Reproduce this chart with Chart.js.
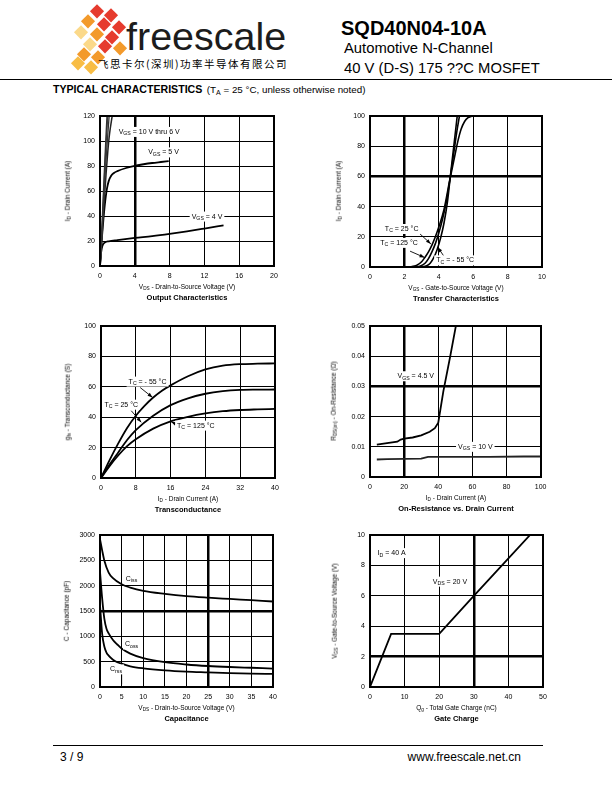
<!DOCTYPE html>
<html>
<head>
<meta charset="utf-8">
<script src="https://cdn.jsdelivr.net/npm/chart.js@4.4.0/dist/chart.umd.min.js"></script>
<style>
body { margin: 0; background: #fff; }
#page { position: relative; width: 612px; height: 792px; overflow: hidden; background: #fff;
        font-family: "Liberation Sans", Arial, sans-serif; color: #000; }
.t { position: absolute; white-space: nowrap; line-height: 1; }
.c { transform: translate(-50%, -50%); }
.l { transform: translate(0, -50%); }
.rt { transform: translate(-100%, -50%); }
.r { transform: translate(-50%, -50%) rotate(-90deg); }
sub { font-size: 0.72em; vertical-align: -0.3em; line-height: 0; }
canvas { position: absolute; }
.dia { position: absolute; width: 9.5px; height: 9.5px; transform: translate(-50%, -50%) rotate(45deg); }
.rule { position: absolute; height: 1px; background: #000; }
</style>
</head>
<body>
<div id="page"></div>
<script>
// Output characteristics: VDS (V), ID (A)
var outVgs10 = [[0,0],[0.1,12],[0.3,44],[0.5,76],[0.7,106],[0.8,120]];
var outVgs8 = [[0,0],[0.1,11],[0.3,40],[0.5,70],[0.7,98],[0.9,120]];
var outVgs7 = [[0,0],[0.1,10],[0.3,36],[0.5,62],[0.7,86],[0.9,106],[1.05,120]];
var outVgs6 = [[0,0],[0.1,9],[0.3,32],[0.5,54],[0.7,74],[0.9,92],[1.1,106],[1.4,120]];
var outVgs5 = [[0,0],[0.1,11],[0.2,21],[0.4,38],[0.6,52],[0.8,62],[1,68],[1.3,72.5],[1.6,74.5],[2,76],[3,78.5],[4,80.3],[5,81.5],[6,82.5],[7,83.3],[7.9,84]];
var outVgs4 = [[0,0],[0.1,9],[0.2,14],[0.35,17.3],[0.6,19],[1,19.8],[2,20.8],[4,22.5],[6,24],[8,25.8],[10,27.8],[12,30],[14.2,32.5]];
var outX = [0, 4, 8, 12, 16, 20];
var outY = [0, 20, 40, 60, 80, 100, 120];

// Transfer characteristics: VGS (V), ID (A)
var trTc125 = [[0,0],[2,0],[2.4,0.2],[2.7,1],[3.0,3.5],[3.2,6.5],[3.4,10],[3.6,14.5],[3.8,20],[4.0,26.5],[4.3,38],[4.66,59],[4.9,72],[5.1,83],[5.3,91.5],[5.5,96.5],[5.7,99],[5.9,100]];
var trTc25 = [[0,0],[2.6,0],[2.9,0.5],[3.2,2.5],[3.4,5.5],[3.6,10],[3.8,15.5],[4.0,22.5],[4.2,31],[4.4,41],[4.66,59],[4.9,78],[5.05,90],[5.2,100]];
var trTc55 = [[0,0],[3.0,0],[3.3,0.8],[3.5,2.5],[3.7,6],[3.9,11.5],[4.1,19],[4.3,29],[4.5,43],[4.66,59],[4.85,78],[5.0,93],[5.07,100]];
var trX = [0, 2, 4, 6, 8, 10];
var trY = [0, 20, 40, 60, 80, 100];

// Transconductance: ID (A), gfs (S)
var gfsTc55 = [[0,0],[2,12],[4,23],[6,33],[8,41],[10,47.5],[12,53],[14,57.5],[16,61],[20,67],[24,71.5],[28,74],[32,75],[36,75.3],[40,75.5]];
var gfsTc25 = [[0,0],[2,9],[4,17],[6,25],[8,31.5],[12,41],[16,48],[20,52.5],[24,55.5],[28,57.2],[32,58],[36,58.2],[40,58.3]];
var gfsTc125 = [[0,0],[2,8],[4,15],[6,21],[8,25.5],[12,32.5],[16,37.3],[20,40.3],[24,42.5],[28,44],[32,44.8],[36,45.2],[40,45.5]];
var gfsX = [0, 8, 16, 24, 32, 40];
var gfsY = [0, 20, 40, 60, 80, 100];

// On-resistance: ID (A), RDS(on) (ohm)
var ronVgs45 = [[4,0.0107],[10,0.0112],[16,0.0117],[18,0.0124],[20,0.0127],[25,0.0131],[30,0.0138],[35,0.015],[38,0.0162],[40,0.018],[43,0.0285],[47,0.04],[50.3,0.05]];
var ronVgs10 = [[4,0.0058],[10,0.0059],[20,0.006],[30,0.0061],[34,0.0067],[50,0.0067],[70,0.0067],[90,0.0068],[100,0.0068]];
var ronX = [0, 20, 40, 60, 80, 100];
var ronY = [0, 0.01, 0.02, 0.03, 0.04, 0.05];

// Capacitance: VDS (V), C (pF)
var capCiss = [[0,2920],[0.5,2700],[1,2500],[2,2260],[3,2150],[5,2030],[7,1965],[10,1900],[15,1840],[20,1795],[25,1765],[30,1740],[35,1715],[40,1690]];
var capCoss = [[0,2280],[0.5,1750],[1,1350],[1.5,1150],[2,1060],[3,930],[4,840],[5,760],[7,660],[10,570],[15,490],[20,445],[25,415],[30,395],[35,380],[40,365]];
var capCrss = [[0,1620],[0.5,1050],[1,800],[1.5,680],[2,620],[3,540],[4,490],[5,460],[7,410],[10,370],[15,330],[20,305],[25,290],[30,275],[35,265],[40,258]];
var capX = [0, 5, 10, 15, 20, 25, 30, 35, 40];
var capY = [0, 500, 1000, 1500, 2000, 2500, 3000];

// Gate charge: Qg (nC), VGS (V)
var gateVgs = [[0,0],[6.1,3.5],[20,3.5],[30,6],[46.2,10]];
var gateX = [0, 10, 20, 30, 40, 50];
var gateY = [0, 2, 4, 6, 8, 10];

var page = document.getElementById('page');

function txt(html, x, y, css, cls) {
    var d = document.createElement('div');
    d.className = 't ' + (cls || 'c');
    d.style.cssText = 'left:' + x + 'px;top:' + y + 'px;' + (css || '');
    d.innerHTML = html;
    page.appendChild(d);
    return d;
}

function rule(x, y, w) {
    var d = document.createElement('div');
    d.className = 'rule';
    d.style.cssText = 'left:' + x + 'px;top:' + y + 'px;width:' + w + 'px;';
    page.appendChild(d);
}

// Header with logo.
var R = '#e63b2e', O = '#f39a2b', Y = '#f8bd45', P = '#fbd98a';
[[97,11,R],[111,15,R],[88,21,O],[104,24,R],[119,27,R],[81,32,P],[97,34,O],[112,37,R],
 [90,44,P],[105,46,R],[120,48,O],[84,54,O],[98,57,O],[78,63,Y],[91,67,Y]].forEach(function (d) {
    var e = document.createElement('div');
    e.className = 'dia';
    e.style.left = d[0] + 'px';
    e.style.top = d[1] + 'px';
    e.style.background = d[2];
    page.appendChild(e);
});
txt('freescale', 126, 36.5, 'font-size:39.5px;color:#1c1c1c;', 'l');
txt('飞思卡尔(深圳)功率半导体有限公司', 98, 64, 'font-family:\'Noto Sans CJK SC\';font-size:10.5px;letter-spacing:1.5px;', 'l');
txt('SQD40N04-10A', 341, 28, 'font-weight:bold;font-size:20px;', 'l');
txt('Automotive N-Channel', 344, 48, 'font-size:14.8px;', 'l');
txt('40 V (D-S) 175 ??C MOSFET', 344, 68, 'font-size:14.8px;', 'l');
rule(0, 79, 612);
txt('<b style="font-size:10.6px">TYPICAL CHARACTERISTICS</b> <span style="font-size:9.8px">(T<sub>A</sub> = 25 °C, unless otherwise noted)</span>', 53, 88, '', 'l');

// Footer.
rule(53, 745, 490);
txt('3 / 9', 60, 757, 'font-size:12px;', 'l');
txt('www.freescale.net.cn', 521, 757, 'font-size:12px;', 'rt');

function pts(a) {
    return a.map(function (p) { return {x: p[0], y: p[1]}; });
}

var framePlugin = {
    id: 'frame',
    afterDraw: function (chart) {
        var a = chart.chartArea, c = chart.ctx;
        c.save();
        c.strokeStyle = '#000';
        c.lineWidth = 2;
        c.strokeRect(Math.round(a.left), Math.round(a.top), Math.round(a.right - a.left), Math.round(a.bottom - a.top));
        c.restore();
    }
};

// Labels and pointer lines, placed in data units.
function notesPlugin(notes) {
    return {
        id: 'notes',
        afterDatasetsDraw: function (chart) {
            var c = chart.ctx, sx = chart.scales.x, sy = chart.scales.y;
            var big = '7px "Liberation Sans", Arial, sans-serif';
            var small = '5.2px "Liberation Sans", Arial, sans-serif';
            c.save();
            (notes.lines || []).forEach(function (l) {
                var x1 = sx.getPixelForValue(l.from[0]), y1 = sy.getPixelForValue(l.from[1]);
                var x2 = sx.getPixelForValue(l.to[0]), y2 = sy.getPixelForValue(l.to[1]);
                c.strokeStyle = '#000';
                c.lineWidth = 0.9;
                c.beginPath(); c.moveTo(x1, y1); c.lineTo(x2, y2); c.stroke();
                if (l.head) {
                    var a = Math.atan2(y2 - y1, x2 - x1), cs = Math.cos(a), sn = Math.sin(a);
                    c.beginPath();
                    c.moveTo(x2, y2);
                    c.lineTo(x2 - 5 * cs + 1.8 * sn, y2 - 5 * sn - 1.8 * cs);
                    c.lineTo(x2 - 5 * cs - 1.8 * sn, y2 - 5 * sn + 1.8 * cs);
                    c.closePath();
                    c.fillStyle = '#000';
                    c.fill();
                }
            });
            (notes.labels || []).forEach(function (l) {
                var w = 0;
                l.parts.forEach(function (p) { c.font = p[1] ? small : big; w += c.measureText(p[0]).width; });
                var x = sx.getPixelForValue(l.at[0]) - w / 2, y = sy.getPixelForValue(l.at[1]);
                c.fillStyle = '#fff';
                c.fillRect(x - 2, y - 5, w + 4, 10);
                c.fillStyle = '#000';
                c.textBaseline = 'middle';
                c.textAlign = 'left';
                l.parts.forEach(function (p) {
                    c.font = p[1] ? small : big;
                    c.fillText(p[0], x, p[1] ? y + 2 : y);
                    x += c.measureText(p[0]).width;
                });
            });
            c.restore();
        }
    };
}

function axis(ticks, thick, size, pad) {
    return {
        type: 'linear',
        min: ticks[0],
        max: ticks[ticks.length - 1],
        afterBuildTicks: function (s) { s.ticks = ticks.map(function (v) { return {value: v}; }); },
        afterFit: function (s) { if (s.isHorizontal()) s.height = size; else s.width = size; },
        ticks: {
            autoSkip: false, maxRotation: 0, padding: pad, color: '#000',
            font: {family: 'Liberation Sans', size: 7},
            callback: function (v) { return String(+Number(v).toFixed(4)); }
        },
        grid: {
            color: '#000', drawTicks: false,
            lineWidth: function (c) {
                return c.tick && thick !== null && Math.abs(c.tick.value - thick) < 1e-9 ? 2.5 : 1;
            }
        },
        border: {display: false}
    };
}

function drawPlot(cfg) {
    var L = cfg.box[0], T = cfg.box[1], Rr = cfg.box[2], B = cfg.box[3];
    var padL = 34, padT = 8, padR = 10, padB = 18;
    var w = Rr - L + padL + padR, h = B - T + padT + padB;
    var cv = document.createElement('canvas');
    cv.width = w;
    cv.height = h;
    cv.style.left = (L - padL) + 'px';
    cv.style.top = (T - padT) + 'px';
    cv.style.width = w + 'px';
    cv.style.height = h + 'px';
    page.appendChild(cv);

    new Chart(cv, {
        type: 'scatter',
        data: {
            datasets: cfg.series.map(function (s) {
                return {
                    data: pts(s[0]), showLine: true, pointRadius: 0, fill: false,
                    borderColor: s[1] || '#000', borderWidth: s[2] || 1.8,
                    tension: 0, cubicInterpolationMode: cfg.smooth ? 'monotone' : 'default'
                };
            })
        },
        options: {
            responsive: false, animation: false, events: [],
            layout: {padding: {top: padT, right: padR, left: 0, bottom: 0}},
            plugins: {legend: {display: false}, tooltip: {enabled: false}},
            scales: {
                x: axis(cfg.x, cfg.thick[0], padB, 5.5),
                y: axis(cfg.y, cfg.thick[1], padL, 5)
            }
        },
        plugins: [framePlugin, notesPlugin(cfg.notes)]
    });

    txt(cfg.xTitle, (L + Rr) / 2, B + 21, 'font-size:6.5px;');
    txt(cfg.caption, (L + Rr) / 2, B + 31.5, 'font-size:7.5px;font-weight:bold;');
    txt(cfg.yTitle, cfg.yTitleX, (T + B) / 2, 'font-size:6.5px;', 'r');
}

var vgs = function (s) { return [['V'], ['GS', 1], [s]]; };
var tc = function (s) { return [['T'], ['C', 1], [s]]; };

drawPlot({
    box: [100, 115, 274, 266], x: outX, y: outY, thick: [4, null], smooth: true,
    series: [[outVgs10, '#333', 1.3], [outVgs8, '#444', 1.3], [outVgs7, '#333', 1.3], [outVgs6, '#222', 1.5], [outVgs5], [outVgs4]],
    notes: {labels: [
        {at: [5.65, 107.4], parts: vgs(' = 10 V thru 6 V')},
        {at: [7.3, 91], parts: vgs(' = 5 V')},
        {at: [12.3, 39.6], parts: vgs(' = 4 V')}
    ]},
    xTitle: 'V<sub>DS</sub> - Drain-to-Source Voltage (V)', caption: 'Output Characteristics',
    yTitle: 'I<sub>D</sub> - Drain Current (A)', yTitleX: 68
});

drawPlot({
    box: [370, 115, 542, 267], x: trX, y: trY, thick: [2, 60], smooth: true,
    series: [[trTc125, '#000', 1.6], [trTc25, '#000', 1.6], [trTc55, '#000', 1.6]],
    notes: {
        labels: [
            {at: [1.84, 25.2], parts: tc(' = 25 °C')},
            {at: [1.69, 16], parts: tc(' = 125 °C')},
            {at: [4.95, 4.4], parts: tc(' = - 55 °C')}
        ],
        lines: [
            {from: [2.91, 21.9], to: [3.54, 15.3], head: true},
            {from: [2.33, 10.5], to: [3.17, 6.3], head: true},
            {from: [4.33, 6.6], to: [3.94, 13.1], head: true}
        ]
    },
    xTitle: 'V<sub>GS</sub> - Gate-to-Source Voltage (V)', caption: 'Transfer Characteristics',
    yTitle: 'I<sub>D</sub> - Drain Current (A)', yTitleX: 339
});

drawPlot({
    box: [101, 325, 275, 478], x: gfsX, y: gfsY, thick: [null, null], smooth: true,
    series: [[gfsTc55], [gfsTc25], [gfsTc125]],
    notes: {
        labels: [
            {at: [10.7, 63.5], parts: tc(' = - 55 °C')},
            {at: [4.66, 48.3], parts: tc(' = 25 °C')},
            {at: [21.8, 34.5], parts: tc(' = 125 °C')}
        ],
        lines: [
            {from: [9.0, 59.6], to: [11.85, 53.1], head: true},
            {from: [6.96, 44.3], to: [9.25, 36.7], head: true},
            {from: [18.6, 33.8], to: [16.1, 37.1], head: true}
        ]
    },
    xTitle: 'I<sub>D</sub> - Drain Current (A)', caption: 'Transconductance',
    yTitle: 'g<sub>fs</sub> - Transconductance (S)', yTitleX: 68
});

drawPlot({
    box: [370, 325, 542, 477], x: ronX, y: ronY, thick: [20, 0.03], smooth: false,
    series: [[ronVgs45], [ronVgs10, '#222']],
    notes: {labels: [
        {at: [26.8, 0.0334], parts: vgs(' = 4.5 V')},
        {at: [61.7, 0.01], parts: vgs(' = 10 V')}
    ]},
    xTitle: 'I<sub>D</sub> - Drain Current (A)', caption: 'On-Resistance vs. Drain Current',
    yTitle: 'R<sub>DS(on)</sub> - On-Resistance (Ω)', yTitleX: 334
});

drawPlot({
    box: [100, 534, 273, 687], x: capX, y: capY, thick: [25, 1500], smooth: true,
    series: [[capCiss], [capCoss], [capCrss]],
    notes: {
        labels: [
            {at: [7.3, 2134], parts: [['C'], ['iss', 1]]},
            {at: [7.3, 840], parts: [['C'], ['oss', 1]]},
            {at: [3.7, 348], parts: [['C'], ['rss', 1]]}
        ],
        lines: [{from: [5, 260], to: [5, 50]}]
    },
    xTitle: 'V<sub>DS</sub> - Drain-to-Source Voltage (V)', caption: 'Capacitance',
    yTitle: 'C - Capacitance (pF)', yTitleX: 67
});

drawPlot({
    box: [370, 534, 543, 687], x: gateX, y: gateY, thick: [30, 2], smooth: false,
    series: [[gateVgs]],
    notes: {labels: [
        {at: [6.25, 8.82], parts: [['I'], ['D', 1], [' = 40 A']]},
        {at: [23.1, 6.94], parts: [['V'], ['DS', 1], [' = 20 V']]}
    ]},
    xTitle: 'Q<sub>g</sub> - Total Gate Charge (nC)', caption: 'Gate Charge',
    yTitle: 'V<sub>GS</sub> - Gate-to-Source Voltage (V)', yTitleX: 335
});
</script>
</body>
</html>
